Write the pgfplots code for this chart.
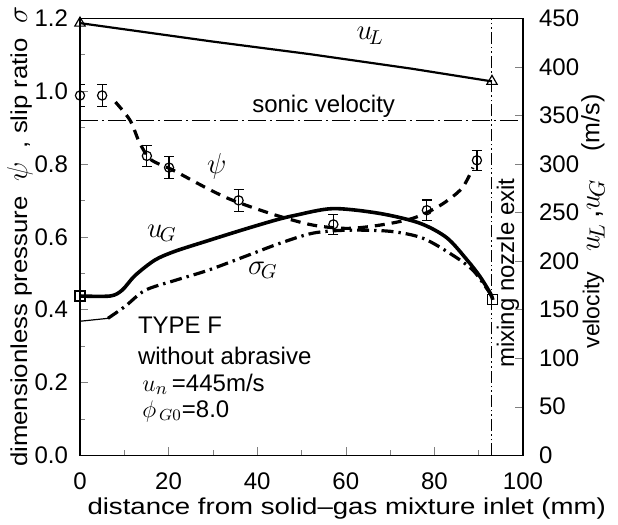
\documentclass[border=0pt]{standalone}
\usepackage{fontspec}
\setmainfont{Liberation Sans}
\newfontfamily\wideA[FakeStretch=1.2]{Liberation Sans}
\newfontfamily\wideB[FakeStretch=1.12]{Liberation Sans}
\usepackage{pgfplots}
\pgfplotsset{compat=1.18}
\begin{document}
\begin{tikzpicture}
\pgfplotsset{
  every axis/.append style={
    width=221.5pt, height=218.5pt, scale only axis,
    xmin=0, xmax=100,
    font=\fontsize{11.5}{13}\selectfont,
    tick label style={font=\fontsize{12}{13}\selectfont},
    /pgf/number format/assume math mode=true,
    tick align=inside,
    axis line style={line width=0.7pt},
    major tick length=4pt, minor tick length=2.5pt,
  },
}
\begin{axis}[
  name=main,
  ymin=0, ymax=1.2,
  xtick={0,20,...,100}, minor x tick num=1,
  ytick={0,0.2,...,1.2}, minor y tick num=1,
  yticklabel style={xshift=-2.5pt, /pgf/number format/.cd, fixed, fixed zerofill, precision=1},
  xticklabel style={yshift=-5pt},
  xtick pos=bottom, ytick pos=left,
  xlabel={\wideA distance from solid–gas mixture inlet (mm)},
  ylabel={\wideB dimensionless pressure \ {\fontsize{14}{16}\selectfont$\psi$}\ \ , slip ratio \ {\fontsize{14}{16}\selectfont$\sigma$}},
  every axis x label/.style={at={(axis description cs:0.001,-0.121)}, anchor=west, overlay},
  every axis y label/.style={at={(axis description cs:-0.1354,0.5)}, anchor=center, rotate=90},
]
% sonic velocity
\addplot[black, line width=0.5pt, dash pattern=on 9pt off 2pt on 1pt off 2pt] coordinates {(0,0.92) (100,0.92)};
% mixing nozzle exit
\addplot[black, line width=0.5pt, dash pattern=on 6pt off 1.5pt on 0.8pt off 1.5pt on 0.8pt off 1.5pt] coordinates {(93,0) (93,1.2)};
% sigma_G
\addplot[black, line width=0.6pt] coordinates {(0,0.368) (6.3,0.376)};
\addplot[black, line width=1.6pt, smooth, dash pattern=on 6pt off 2.5pt on 1.2pt off 2.5pt] coordinates {
  (6.3,0.376) (10.2,0.409) (14.7,0.453) (21.4,0.48) (28.9,0.508) (37.9,0.549)
  (45.1,0.582) (52.6,0.61) (60.3,0.618) (70,0.615) (77.4,0.596) (84.2,0.549)
  (88.7,0.508) (92.1,0.453) (93.2,0.43)};
% psi curve
\addplot[black, line width=1.6pt, smooth, dash pattern=on 5pt off 3.5pt] coordinates {
  (8,0.97) (11.3,0.92) (13.5,0.857) (16,0.812) (21,0.783) (28.7,0.733) (34.5,0.70)
  (44,0.66) (52.6,0.632) (60.3,0.623) (67.7,0.632) (75.2,0.651) (81.3,0.686)
  (86.2,0.733) (88.7,0.79)};
% psi data
\addplot[black, only marks, mark=o, mark size=2.3pt, mark options={fill=white, line width=0.6pt},
  error bars/.cd, y dir=both, y explicit,
  error bar style={line width=0.6pt},
  error mark options={rotate=90, mark size=2.5pt, line width=0.6pt}]
  coordinates {
  (0,0.988) +- (0,0.03)
  (5,0.988) +- (0,0.03)
  (15.1,0.822) +- (0,0.028)
  (20.1,0.79) +- (0,0.03)
  (35.8,0.70) +- (0,0.03)
  (57.2,0.634) +- (0,0.028)
  (78.3,0.673) +- (0,0.028)
  (89.6,0.81) +- (0,0.027)};
\node[font=\fontsize{12}{13}\selectfont] at (axis cs:55,0.958) {sonic velocity};
\node[rotate=90, font=\fontsize{12}{13}\selectfont] at (axis cs:96.6,0.50) {mixing nozzle exit};
\node[font=\fontsize{14}{16}\selectfont] at (axis cs:30.9,0.793) {$\psi$};
\node[font=\fontsize{14}{16}\selectfont] at (axis cs:18.5,0.61) {$u_{\!G}$};
\node[font=\fontsize{14}{16}\selectfont] at (axis cs:41.3,0.508) {$\sigma_{\!G}$};
\node[anchor=west, font=\fontsize{12}{13}\selectfont] at (axis cs:11.5,0.357) {TYPE F};
\node[anchor=west, font=\fontsize{12}{13}\selectfont] at (axis cs:11.5,0.272) {without abrasive};
\node[anchor=west, font=\fontsize{12}{13}\selectfont] at (axis cs:12.5,0.195) {{\fontsize{13}{14}\selectfont$u_n$}\,=445m/s};
\node[anchor=west, font=\fontsize{12}{13}\selectfont] at (axis cs:12.5,0.121) {$\phi_{\,G0}$=8.0};
\end{axis}
\begin{axis}[
  ymin=0, ymax=450,
  ytick={0,50,...,450},
  xtick=\empty, ytick pos=right,
  yticklabel pos=right,
  yticklabel style={xshift=4.5pt},
  ylabel={velocity\hspace{10pt}{\fontsize{15}{16}\selectfont$u_{\!L}$\,,$u_{\!G}$}\hspace{14pt}{\fontsize{12.5}{14}\selectfont(m/s)}},
  ylabel style={at={(axis description cs:1.158,0.535)}, anchor=center},
]
% u_L
\addplot[black, line width=1.1pt, mark=triangle, mark size=3pt, mark options={fill=white, line width=0.6pt},
  mark indices={1,5}] coordinates {(0,445) (30,426) (52,413) (75,398) (93,385)};
% u_G
\addplot[black, line width=1.8pt, smooth] coordinates {
  (0,164) (6.8,164) (9.5,170) (12.4,185) (16.9,201) (21.4,210) (28.9,221)
  (36.6,232) (44,242) (48.5,247) (57.1,254) (67.7,249) (76.7,239) (82.8,224)
  (87.4,201) (90.3,184) (92.6,167) (93.2,160)};
\addplot[black, only marks, mark=square, mark size=2.5pt, mark options={fill=white, line width=0.6pt}]
  coordinates {(0,164) (93.2,160)};
\node[font=\fontsize{14}{16}\selectfont] at (axis cs:65.5,432) {$u_{\!L}$};
\end{axis}
\path ([shift={(-40pt,-34.5pt)}]main.south west) rectangle ([shift={(47.5pt,7.5pt)}]main.north east);
\end{tikzpicture}
\end{document}
